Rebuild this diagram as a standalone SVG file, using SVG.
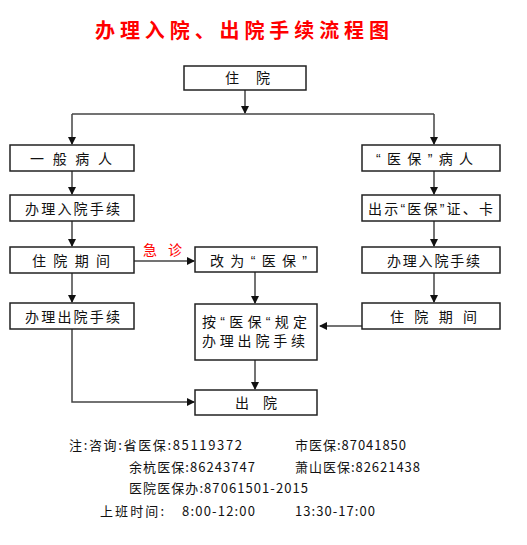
<svg xmlns="http://www.w3.org/2000/svg" width="527" height="545" viewBox="0 0 527 545">
<style>
.box{fill:#fff;stroke:#222;stroke-width:1.5}
.t{font-family:"Liberation Sans","Noto Sans CJK SC",sans-serif;font-size:14px;fill:#111}
.f{font-family:"Noto Sans CJK SC","Liberation Sans",sans-serif;font-size:13px;fill:#111}
.c{fill:none;stroke:#444;stroke-width:1.5}
.title{font-family:"Noto Sans CJK SC",sans-serif;font-size:20px;font-weight:bold;fill:#ff0000}
</style>
<defs>
<marker id="ah" markerWidth="8" markerHeight="8" refX="7" refY="4" orient="auto" markerUnits="userSpaceOnUse">
<path d="M0,0 L8,4 L0,8 Z" fill="#111"/>
</marker>
</defs>
<rect width="527" height="545" fill="#fff"/>
<text class="title" x="95" y="38" textLength="294" lengthAdjust="spacing">办理入院、出院手续流程图</text>

<g id="connectors">
<line class="c" x1="245" y1="90" x2="245" y2="113" marker-end="url(#ah)"/>
<line class="c" x1="72" y1="114" x2="434" y2="114"/>
<line class="c" x1="72" y1="114" x2="72" y2="144" marker-end="url(#ah)"/>
<line class="c" x1="434" y1="114" x2="434" y2="144" marker-end="url(#ah)"/>
<line class="c" x1="72" y1="171" x2="72" y2="194" marker-end="url(#ah)"/>
<line class="c" x1="72" y1="221" x2="72" y2="246" marker-end="url(#ah)"/>
<line class="c" x1="72" y1="273" x2="72" y2="302" marker-end="url(#ah)"/>
<line class="c" x1="434" y1="171" x2="434" y2="194" marker-end="url(#ah)"/>
<line class="c" x1="434" y1="221" x2="434" y2="246" marker-end="url(#ah)"/>
<line class="c" x1="434" y1="273" x2="434" y2="302" marker-end="url(#ah)"/>
<line class="c" x1="134" y1="261" x2="194" y2="261" marker-end="url(#ah)"/>
<line class="c" x1="255" y1="272" x2="255" y2="303" marker-end="url(#ah)"/>
<line class="c" x1="362" y1="326" x2="320" y2="326" marker-end="url(#ah)"/>
<line class="c" x1="255" y1="360" x2="255" y2="389" marker-end="url(#ah)"/>
<polyline class="c" points="72,329 72,402 194,402" marker-end="url(#ah)"/>
<text x="143" y="255" font-family="'Noto Sans CJK SC',sans-serif" font-size="14" fill="#ff0000" textLength="39" lengthAdjust="spacing">急诊</text>
</g>

<g id="n-zhuyuan"><rect class="box" x="184" y="66" width="122" height="24"/><text class="t" x="225" y="83" textLength="45" lengthAdjust="spacing">住院</text></g>
<g id="n-yiban"><rect class="box" x="10" y="145" width="124" height="26"/><text class="t" x="30" y="164" textLength="82" lengthAdjust="spacing">一般病人</text></g>
<g id="n-yibao"><rect class="box" x="362" y="145" width="138" height="26"/><text class="t" x="376" y="164" textLength="97" lengthAdjust="spacing">“医保”病人</text></g>
<g id="n-ruyuan-l"><rect class="box" x="10" y="195" width="124" height="26"/><text class="t" x="25" y="214" textLength="95" lengthAdjust="spacing">办理入院手续</text></g>
<g id="n-chushi"><rect class="box" x="362" y="195" width="138" height="26"/><text class="t" x="368" y="214" textLength="125" lengthAdjust="spacing">出示“医保”证、卡</text></g>
<g id="n-qijian-l"><rect class="box" x="10" y="247" width="124" height="26"/><text class="t" x="32" y="266" textLength="78" lengthAdjust="spacing">住院期间</text></g>
<g id="n-gaiwei"><rect class="box" x="195" y="247" width="122" height="25"/><text class="t" x="210" y="266" textLength="97" lengthAdjust="spacing">改为“医保”</text></g>
<g id="n-ruyuan-r"><rect class="box" x="362" y="247" width="138" height="26"/><text class="t" x="387" y="266" textLength="93" lengthAdjust="spacing">办理入院手续</text></g>
<g id="n-chuyuan-l"><rect class="box" x="10" y="303" width="124" height="26"/><text class="t" x="25" y="322" textLength="95" lengthAdjust="spacing">办理出院手续</text></g>
<g id="n-an"><rect class="box" x="195" y="304" width="122" height="56"/><text class="t" x="202" y="327" textLength="105" lengthAdjust="spacing">按“医保“规定</text><text class="t" x="202" y="346" textLength="103" lengthAdjust="spacing">办理出院手续</text></g>
<g id="n-qijian-r"><rect class="box" x="362" y="303" width="138" height="26"/><text class="t" x="390" y="322" textLength="87" lengthAdjust="spacing">住院期间</text></g>
<g id="n-chuyuan"><rect class="box" x="195" y="390" width="122" height="25"/><text class="t" x="235" y="408" textLength="42" lengthAdjust="spacing">出院</text></g>

<g id="footer">
<text class="f" x="69" y="450" textLength="173" lengthAdjust="spacing">注:咨询:省医保:85119372</text>
<text class="f" x="295" y="450" textLength="111" lengthAdjust="spacing">市医保:87041850</text>
<text class="f" x="129" y="472" textLength="126" lengthAdjust="spacing">余杭医保:86243747</text>
<text class="f" x="295" y="472" textLength="125" lengthAdjust="spacing">萧山医保:82621438</text>
<text class="f" x="129" y="493" textLength="179" lengthAdjust="spacing">医院医保办:87061501-2015</text>
<text class="f" x="100" y="516" textLength="64" lengthAdjust="spacing">上班时间:</text>
<text class="f" x="182" y="516" textLength="73" lengthAdjust="spacing">8:00-12:00</text>
<text class="f" x="295" y="516" textLength="80" lengthAdjust="spacing">13:30-17:00</text>
</g>
</svg>
